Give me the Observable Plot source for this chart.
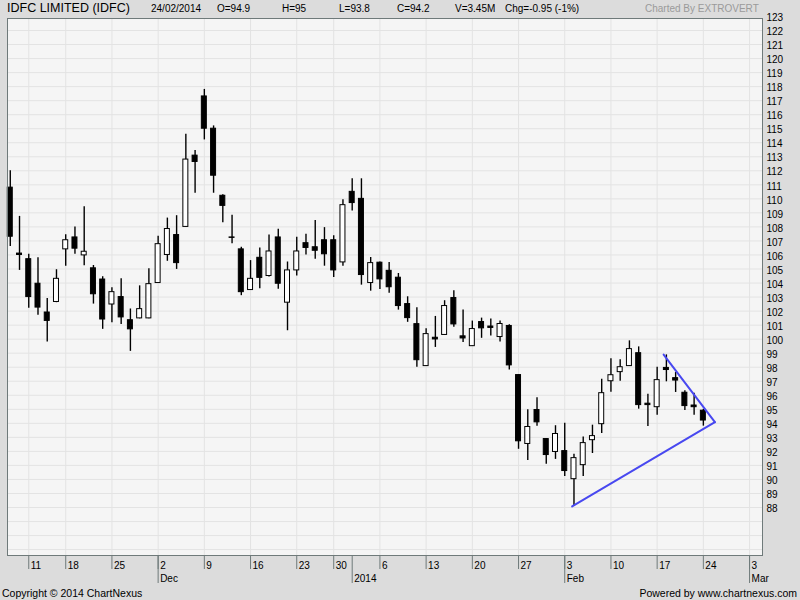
<!DOCTYPE html>
<html><head><meta charset="utf-8">
<script src="https://cdn.jsdelivr.net/npm/d3@7"></script>
<script src="https://cdn.jsdelivr.net/npm/@observablehq/plot@0.6"></script>
<style>
html,body{margin:0;padding:0;background:#dcdcdc;}
#wrap{position:relative;width:800px;height:600px;overflow:hidden;font-family:"Liberation Sans",Arial,sans-serif;background:#dcdcdc;}
#chart{position:absolute;left:0;top:0;}
.t{position:absolute;white-space:nowrap;line-height:1;color:#000;}
.h{font-size:10px;top:4px;}
</style></head><body>
<div id="wrap">
  <div id="chart"></div>
  <div class="t" style="left:7px;top:2px;font-size:12.5px;">IDFC LIMITED (IDFC)</div>
  <div class="t h" style="left:151px;">24/02/2014</div>
  <div class="t h" style="left:217px;">O=94.9</div>
  <div class="t h" style="left:282px;">H=95</div>
  <div class="t h" style="left:339px;">L=93.8</div>
  <div class="t h" style="left:397px;">C=94.2</div>
  <div class="t h" style="left:455px;">V=3.45M</div>
  <div class="t h" style="left:505px;">Chg=-0.95 (-1%)</div>
  <div class="t h" style="left:645px;color:#9a9a9a;">Charted By EXTROVERT</div>
  <div class="t" style="left:2px;top:588px;font-size:10.5px;">Copyright © 2014 ChartNexus</div>
  <div class="t" style="right:3px;top:588px;font-size:10.5px;">Powered by www.chartnexus.com</div>
</div>
<script>
// Trading days shown (IDFC, NSE)
const dates = [
  "2013-11-07","2013-11-08",
  "2013-11-11","2013-11-12","2013-11-13","2013-11-14",
  "2013-11-18","2013-11-19","2013-11-20","2013-11-21","2013-11-22",
  "2013-11-25","2013-11-26","2013-11-27","2013-11-28","2013-11-29",
  "2013-12-02","2013-12-03","2013-12-04","2013-12-05","2013-12-06",
  "2013-12-09","2013-12-10","2013-12-11","2013-12-12","2013-12-13",
  "2013-12-16","2013-12-17","2013-12-18","2013-12-19","2013-12-20",
  "2013-12-23","2013-12-24","2013-12-26","2013-12-27",
  "2013-12-30","2013-12-31","2014-01-01","2014-01-02","2014-01-03",
  "2014-01-06","2014-01-07","2014-01-08","2014-01-09","2014-01-10",
  "2014-01-13","2014-01-14","2014-01-15","2014-01-16","2014-01-17",
  "2014-01-20","2014-01-21","2014-01-22","2014-01-23","2014-01-24",
  "2014-01-27","2014-01-28","2014-01-29","2014-01-30","2014-01-31",
  "2014-02-03","2014-02-04","2014-02-05","2014-02-06","2014-02-07",
  "2014-02-10","2014-02-11","2014-02-12","2014-02-13","2014-02-14",
  "2014-02-17","2014-02-18","2014-02-19","2014-02-20","2014-02-21",
  "2014-02-24"
];
// Axis slots after the last bar (empty)
const futureDates = ["2014-02-25","2014-02-26","2014-02-27","2014-02-28","2014-03-03","2014-03-04"];

const open = [
  110.8,106.1, 105.7,103.95,101.9,102.65, 106.4,107.25,105.97,105.05,104.25,
  102.47,103.0,101.35,101.48,101.48, 104.0,106.0,107.42,108.0,113.08,
  117.3,115.0,110.22,107.25,106.4, 103.5,105.8,104.5,107.25,102.6,
  104.9,106.84,106.55,107.05, 107.05,105.47,110.5,110.0,104.0,
  105.45,104.87,104.38,102.5,101.07, 98.08,100.1,100.3,102.93,100.2,
  99.5,101.22,100.9,100.15,100.94, 97.44,92.53,94.95,92.88,91.96,
  92.02,90.02,91.02,92.8,93.94, 97.0,97.65,98.08,99.0,95.4,
  95.15,97.95,97.22,96.18,95.27, 94.9
];
const high = [
  112.0,108.75, 106.05,105.8,102.9,104.95, 107.45,108.0,109.43,105.25,104.45,
  103.66,104.3,102.15,103.8,105.02, 107.34,108.63,108.8,114.6,113.45,
  117.8,115.2,110.3,108.83,106.55, 105.6,106.5,107.43,107.83,105.5,
  107.26,107.47,108.45,107.95, 107.37,109.93,111.43,111.43,105.82,
  105.5,105.47,104.68,103.02,102.24, 100.74,101.62,102.74,103.45,102.08,
  101.29,101.5,101.43,101.29,101.03, 97.45,94.97,95.83,92.9,93.83,
  94.01,91.8,93.02,93.87,97.15, 98.6,98.53,99.88,99.45,96.08,
  98.0,98.88,97.62,96.32,96.15, 95.0
];
const low = [
  106.6,104.9, 102.2,101.7,99.8,102.6, 105.2,106.05,105.23,102.5,100.7,
  101.17,101.05,99.13,101.45,101.45, 103.98,105.55,104.97,107.98,110.4,
  114.2,110.4,108.3,106.8,103.1, 103.48,103.6,104.43,103.56,100.6,
  104.5,106.0,105.7,105.2, 104.4,105.2,109.13,103.85,103.42,
  103.54,103.28,102.07,101.2,98.0, 98.05,99.41,100.28,100.84,99.77,
  99.48,100.06,100.22,99.8,97.8, 92.15,91.36,93.79,91.08,91.43,
  90.21,88.08,90.21,91.85,93.28, 96.22,97.0,98.07,95.01,93.78,
  94.58,96.96,96.2,94.92,94.58, 93.8
];
const close = [
  107.3,106.0, 103.0,102.25,101.3,104.3, 107.05,106.45,106.23,103.2,101.4,
  103.35,101.55,100.7,102.14,103.92, 106.77,107.85,105.42,112.8,112.63,
  115.0,111.65,109.5,107.22,103.35, 104.3,104.37,106.25,103.95,104.9,
  106.25,106.5,106.3,106.05, 104.9,109.55,109.7,104.57,105.42,
  104.26,103.7,102.36,101.5,98.5, 100.36,99.98,102.36,101.05,100.05,
  100.72,100.77,100.8,101.08,98.13, 92.72,93.74,94.07,91.74,93.24,
  90.6,91.52,92.59,93.09,96.15, 97.43,98.0,99.29,95.3,95.3,
  97.08,97.8,97.05,95.23,95.15, 94.2
];

// Axis ticks
const dayTickDates = ["2013-11-11","2013-11-18","2013-11-25","2013-12-02","2013-12-09","2013-12-16",
  "2013-12-23","2013-12-30","2014-01-06","2014-01-13","2014-01-20","2014-01-27",
  "2014-02-03","2014-02-10","2014-02-17","2014-02-24","2014-03-03"];
const dayTickLabels = ["11","18","25","2","9","16","23","30","6","13","20","27","3","10","17","24","3"];
const monthTickDates = ["2013-12-02","2014-01-01","2014-02-03","2014-03-03"];
const monthTickLabels = ["Dec","2014","Feb","Mar"];
const yLabels = d3.range(88, 124);
const yGrid = d3.range(85, 123);

// Hand-drawn trend lines (x in trading-day slots, y in price)
const lowerTrendX = [60.8, 76.25];
const lowerTrendY = [88.08, 94.08];
const upperTrendX = [70.7, 76.25];
const upperTrendY = [98.9, 94.08];

const allDates = dates.concat(futureDates);
const slot = d => allDates.indexOf(d);
const dayIdx = dayTickDates.map(slot);
const monthIdx = monthTickDates.map(slot);
const dayLabel = new Map(dayIdx.map((x, k) => [x, dayTickLabels[k]]));
const monthLabel = new Map(monthIdx.map((x, k) => [x, monthTickLabels[k]]));

const candles = dates.map((d, i) => ({i, date: d, o: open[i], h: high[i], l: low[i], c: close[i]}));
const lowerTrend = lowerTrendX.map((x, k) => ({x, y: lowerTrendY[k]}));
const upperTrend = upperTrendX.map((x, k) => ({x, y: upperTrendY[k]}));

const axisColor = "#6f7a7a";
const gridColor = "#e3e3e3";

const chart = Plot.plot({
  width: 800, height: 600,
  marginLeft: 7, marginRight: 38, marginTop: 18, marginBottom: 45,
  style: {background: "transparent", fontFamily: "Liberation Sans, Arial, sans-serif", fontSize: "10px", overflow: "visible"},
  x: {type: "linear", domain: [-0.3, 81.4], label: null, axis: null},
  y: {type: "linear", domain: [84.58, 122.855], label: null, axis: null},
  marks: [
    Plot.frame({fill: "#f5f5f5", stroke: null}),
    Plot.gridY(yGrid, {stroke: gridColor, strokeOpacity: 1}),
    Plot.gridX(dayIdx, {stroke: gridColor, strokeOpacity: 1}),
    Plot.ruleX(candles, {x: "i", y1: "l", y2: "h", stroke: "#000", strokeWidth: 1.4}),
    Plot.rect(candles, {
      x1: d => d.i - 0.27, x2: d => d.i + 0.27, y1: "o", y2: "c",
      fill: d => d.c > d.o ? "#ffffff" : "#000000", stroke: "#000", strokeWidth: 1
    }),
    Plot.line(lowerTrend, {x: "x", y: "y", stroke: "#4848f0", strokeWidth: 2}),
    Plot.line(upperTrend, {x: "x", y: "y", stroke: "#4848f0", strokeWidth: 2}),
    Plot.frame({stroke: axisColor, strokeWidth: 1}),
    Plot.axisX(dayIdx, {tickSize: 14, tickFormat: () => "", stroke: axisColor, label: null}),
    Plot.axisX(monthIdx, {tickSize: 28, tickFormat: () => "", stroke: axisColor, label: null}),
    Plot.axisX(dayIdx, {tickSize: 0, tickPadding: 6, tickFormat: d => dayLabel.get(d), textAnchor: "start", dx: 2, fontSize: 10, label: null}),
    Plot.axisX(monthIdx, {tickSize: 0, tickPadding: 19, tickFormat: d => monthLabel.get(d), textAnchor: "start", dx: 2, fontSize: 10, label: null}),
    Plot.axisY(yLabels, {anchor: "right", tickSize: 0, tickPadding: 4, dy: 1.5, fontSize: 10, label: null})
  ]
});
document.getElementById("chart").appendChild(chart);
</script>
</body></html>
